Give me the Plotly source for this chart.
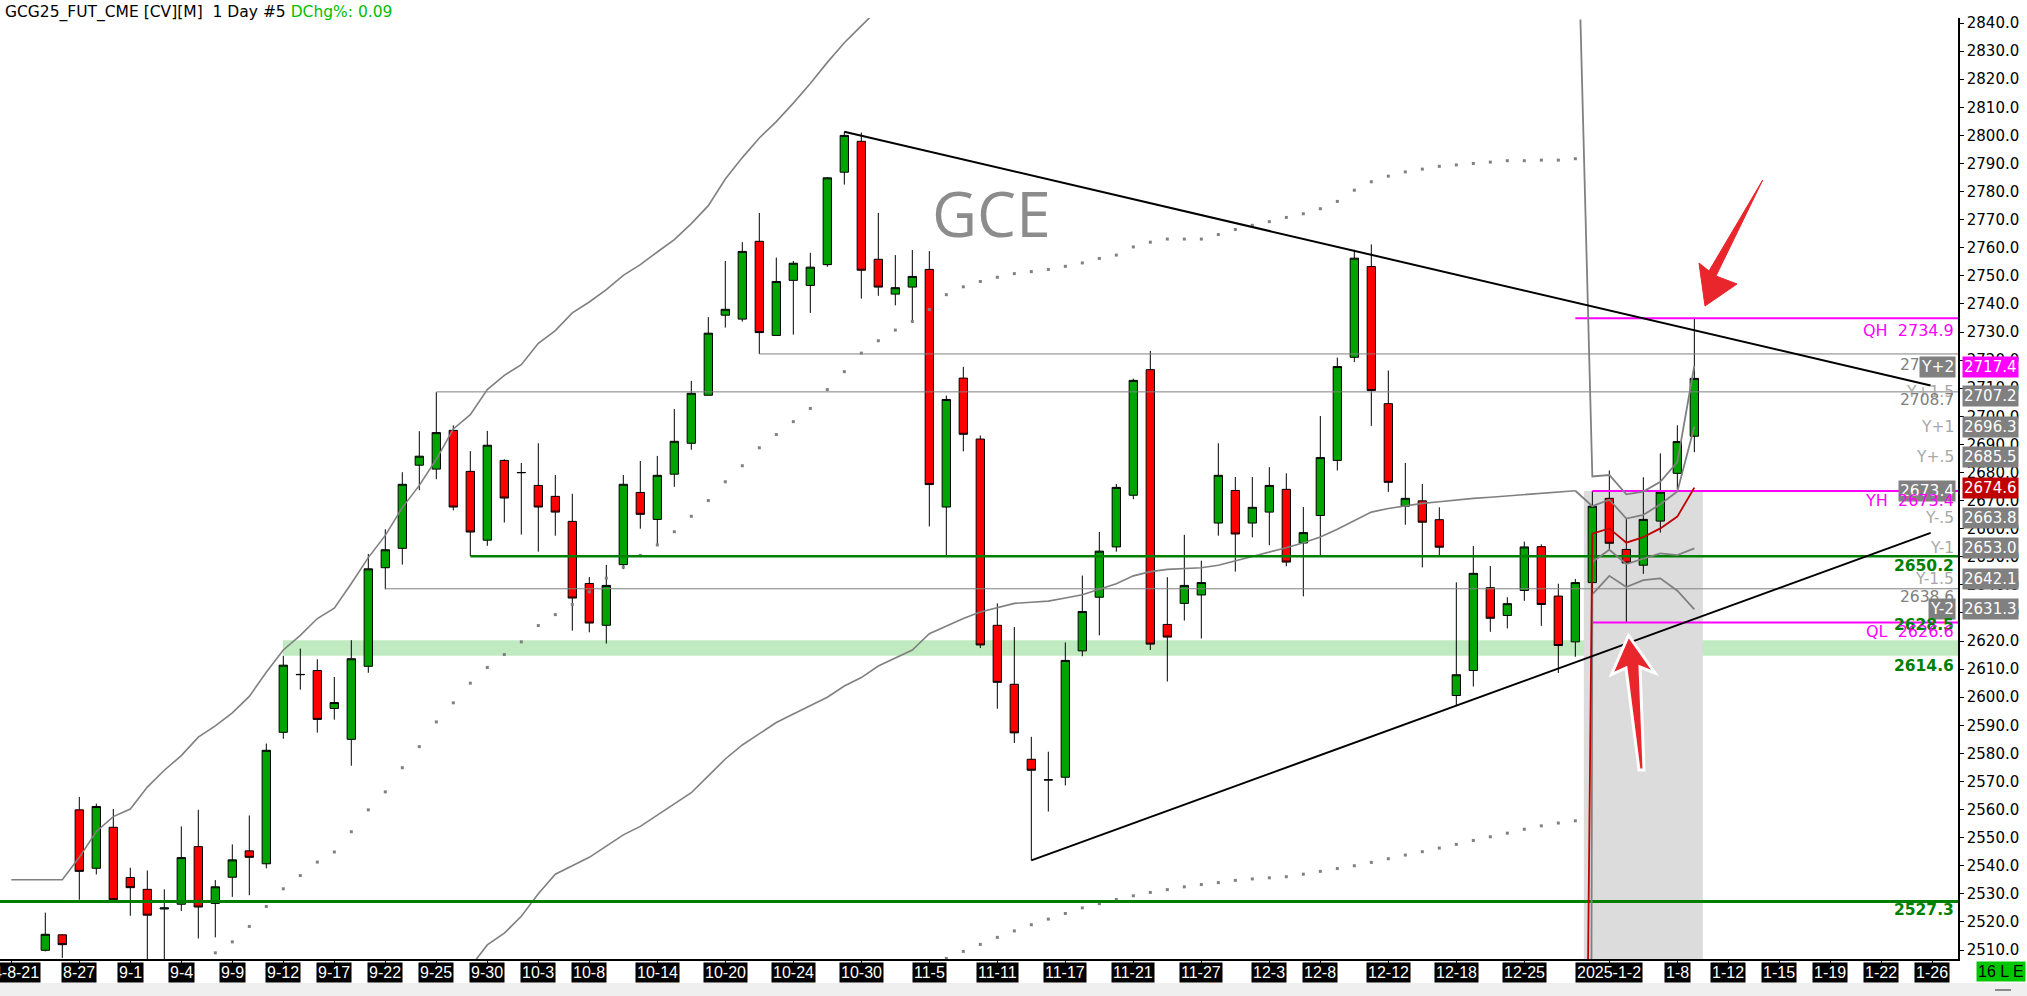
import plotly.graph_objects as go

# ---------------- data ----------------
opens = [2509.9, 2515.4, 2559.9, 2539.1, 2553.7, 2535.8, 2531.6, 2524.6, 2526.3, 2546.8,
         2526.6, 2535.9, 2545.3, 2540.7, 2587.5, 2608.0, 2609.5, 2596.0, 2585.0, 2611.0,
         2646.1, 2653.0, 2682.6, 2681.2, 2695.0, 2680.4, 2655.9, 2684.3, 2679.9, 2675.4,
         2671.5, 2662.6, 2640.5, 2625.6, 2647.2, 2672.9, 2663.3, 2679.4, 2690.4, 2707.5,
         2736.0, 2734.6, 2762.3, 2728.8, 2748.4, 2746.6, 2754.0, 2786.9, 2797.9, 2755.9,
         2743.5, 2746.0, 2752.3, 2667.7, 2713.6, 2691.9, 2625.6, 2604.6, 2577.9, 2570.5,
         2571.5, 2616.5, 2635.6, 2653.5, 2671.9, 2716.6, 2625.9, 2633.4, 2636.4, 2662.0,
         2673.6, 2662.0, 2665.9, 2674.0, 2654.9, 2664.7, 2684.3, 2721.0, 2753.3, 2704.5,
         2668.0, 2669.9, 2663.2, 2600.6, 2609.5, 2639.0, 2629.1, 2638.0, 2653.6, 2636.0,
         2619.7, 2640.8, 2670.8, 2652.6, 2647.0, 2662.7, 2679.7, 2692.9]
highs = [2523.3, 2515.6, 2564.5, 2562.1, 2560.2, 2539.3, 2538.3, 2531.6, 2554.0, 2559.9,
         2534.9, 2547.6, 2557.9, 2583.5, 2614.7, 2617.3, 2613.5, 2607.2, 2620.3, 2651.0,
         2659.8, 2680.1, 2694.7, 2708.6, 2696.8, 2687.6, 2694.8, 2684.7, 2683.4, 2690.4,
         2679.1, 2672.4, 2642.8, 2647.1, 2679.1, 2684.1, 2685.9, 2702.6, 2712.6, 2735.3,
         2755.3, 2762.0, 2772.4, 2756.5, 2755.3, 2758.2, 2785.2, 2801.3, 2801.0, 2772.4,
         2757.4, 2759.2, 2758.8, 2707.4, 2717.6, 2693.2, 2633.4, 2625.0, 2585.9, 2580.6,
         2619.5, 2643.3, 2658.8, 2675.9, 2713.4, 2723.3, 2642.7, 2657.8, 2648.6, 2690.4,
         2678.4, 2678.4, 2681.9, 2679.7, 2667.7, 2700.1, 2720.9, 2759.3, 2761.2, 2716.3,
         2683.4, 2675.9, 2667.6, 2640.9, 2653.8, 2646.7, 2635.6, 2655.4, 2654.4, 2640.4,
         2642.1, 2673.4, 2680.7, 2663.6, 2678.3, 2686.8, 2696.8, 2734.9]
lows = [2509.5, 2507.2, 2527.9, 2536.9, 2527.9, 2522.2, 2503.0, 2502.0, 2523.9, 2514.1,
        2514.5, 2528.9, 2529.5, 2539.1, 2585.2, 2602.7, 2587.4, 2592.0, 2575.6, 2608.7,
        2638.4, 2647.2, 2673.7, 2677.6, 2666.5, 2650.2, 2653.9, 2662.2, 2657.9, 2651.8,
        2657.5, 2623.7, 2623.1, 2619.1, 2645.6, 2660.0, 2654.2, 2674.9, 2688.1, 2707.5,
        2731.6, 2733.7, 2722.2, 2728.8, 2729.1, 2736.8, 2753.2, 2782.5, 2741.9, 2742.9,
        2739.5, 2733.3, 2660.8, 2650.1, 2687.5, 2617.5, 2595.9, 2583.7, 2541.9, 2559.3,
        2568.6, 2614.6, 2622.0, 2651.8, 2670.5, 2616.8, 2605.6, 2627.3, 2620.9, 2657.5,
        2644.7, 2656.9, 2654.1, 2646.6, 2635.9, 2650.3, 2680.7, 2719.3, 2696.6, 2673.1,
        2661.4, 2646.2, 2650.3, 2596.9, 2603.8, 2623.3, 2624.5, 2634.3, 2625.4, 2608.6,
        2614.4, 2636.6, 2652.5, 2626.6, 2643.9, 2658.6, 2674.1, 2687.2]
closes = [2515.6, 2511.9, 2538.0, 2561.1, 2527.9, 2532.2, 2522.4, 2525.0, 2542.9, 2525.3,
          2532.5, 2542.1, 2543.0, 2581.1, 2611.4, 2608.1, 2592.1, 2598.1, 2613.7, 2645.7,
          2652.5, 2675.8, 2685.8, 2694.2, 2667.7, 2658.8, 2689.7, 2670.9, 2680.0, 2667.7,
          2665.9, 2635.3, 2626.4, 2639.8, 2675.8, 2665.1, 2679.0, 2691.1, 2708.2, 2729.6,
          2738.1, 2758.7, 2729.8, 2748.0, 2754.5, 2753.1, 2784.9, 2800.0, 2752.0, 2746.0,
          2745.8, 2749.8, 2675.7, 2706.0, 2693.6, 2618.6, 2605.3, 2587.3, 2574.0, 2570.6,
          2613.1, 2630.5, 2652.0, 2674.7, 2712.8, 2618.9, 2621.4, 2639.8, 2640.8, 2679.0,
          2658.1, 2667.6, 2675.4, 2648.1, 2658.6, 2685.3, 2717.7, 2756.3, 2709.2, 2676.5,
          2670.8, 2662.3, 2653.4, 2608.0, 2644.1, 2628.1, 2633.3, 2653.5, 2633.0, 2618.4,
          2640.8, 2668.0, 2654.8, 2647.8, 2663.3, 2673.0, 2691.0, 2713.5]
bar_idx = list(range(len(opens)))

tick_pos = [-2, 2, 5, 8, 11, 14, 17, 20, 23, 26, 29, 32, 36, 40, 44, 48, 52, 56, 60, 64,
            68, 72, 75, 79, 83, 87, 92, 96, 99, 102, 105, 108, 111]
tick_text = ["24-8-21", "8-27", "9-1", "9-4", "9-9", "9-12", "9-17", "9-22", "9-25", "9-30",
             "10-3", "10-8", "10-14", "10-20", "10-24", "10-30", "11-5", "11-11", "11-17",
             "11-21", "11-27", "12-3", "12-8", "12-12", "12-18", "12-25", "2025-1-2", "1-8",
             "1-12", "1-15", "1-19", "1-22", "1-26"]

y_ticks = [2510 + 10 * i for i in range(34)]

# upper envelope (solid grey)
upper_band_x = list(range(-2, 50))
upper_band_y = [2535.0, 2535.0, 2535.0, 2535.0, 2543.0, 2552.2, 2557.5, 2560.2, 2568.0, 2574.0,
                2579.2, 2585.8, 2589.8, 2594.4, 2600.3, 2608.9, 2616.8, 2622.0, 2628.0, 2631.7,
                2640.5, 2649.7, 2657.6, 2667.5, 2675.4, 2684.7, 2695.5, 2700.6, 2709.5, 2714.6,
                2718.4, 2726.0, 2730.5, 2736.8, 2740.7, 2745.1, 2750.2, 2754.0, 2758.5, 2762.9,
                2768.6, 2775.0, 2784.5, 2792.1, 2799.1, 2804.9, 2811.5, 2818.5, 2826.0, 2833.0,
                2839.0, 2845.0]
# lower envelope (solid grey)
lower_band_x = list(range(25, 91))
lower_band_y = [2504.0, 2511.8, 2516.0, 2522.0, 2530.0, 2537.0, 2540.0, 2543.0, 2547.0, 2551.0,
                2554.0, 2558.0, 2562.0, 2566.0, 2572.0, 2578.0, 2583.0, 2587.0, 2591.0, 2594.0,
                2597.0, 2600.0, 2604.0, 2607.0, 2611.1, 2614.0, 2616.8, 2622.6, 2625.3, 2628.0,
                2630.3, 2631.9, 2633.4, 2633.8, 2634.2, 2635.3, 2636.5, 2638.4, 2640.4, 2643.2,
                2644.7, 2645.5, 2645.8, 2646.1, 2647.0, 2648.5, 2650.0, 2651.5, 2653.2, 2655.0,
                2657.0, 2659.8, 2662.7, 2665.9, 2667.2, 2668.2, 2669.0, 2669.6, 2670.3, 2670.8,
                2671.2, 2671.7, 2672.2, 2672.7, 2673.2, 2673.5]
# dotted upper stop line
up_dots_x = list(range(10, 91))
up_dots_y = [2509.0, 2512.9, 2518.4, 2525.5, 2531.8, 2536.5, 2541.3, 2544.9, 2552.1, 2559.9,
             2566.3, 2574.9, 2582.4, 2591.2, 2598.0, 2605.0, 2610.6, 2615.2, 2619.7, 2625.5,
             2629.4, 2633.0, 2637.5, 2642.4, 2646.3, 2650.5, 2654.2, 2658.9, 2664.4, 2670.0,
             2676.7, 2682.4, 2688.8, 2693.5, 2698.1, 2702.8, 2709.5, 2715.9, 2722.5, 2726.9,
             2730.7, 2733.8, 2738.0, 2743.3, 2746.1, 2748.0, 2749.5, 2750.8, 2751.5, 2752.3,
             2753.4, 2754.6, 2756.2, 2757.4, 2760.3, 2762.0, 2763.1, 2763.1, 2763.1, 2764.7,
             2766.5, 2768.0, 2769.3, 2770.8, 2772.1, 2773.9, 2776.5, 2780.5, 2783.5, 2785.5,
             2787.0, 2788.0, 2789.0, 2789.5, 2790.0, 2790.5, 2791.0, 2791.0, 2791.2, 2791.2,
             2791.7]
# dotted lower stop line
lo_dots_x = list(range(53, 91))
lo_dots_y = [2507.0, 2509.5, 2512.0, 2514.5, 2516.8, 2519.0, 2521.0, 2523.0, 2525.0, 2526.5,
             2528.0, 2529.3, 2530.5, 2531.5, 2532.5, 2533.3, 2534.0, 2534.8, 2535.3, 2535.7,
             2536.1, 2537.0, 2538.0, 2539.0, 2540.0, 2541.2, 2542.5, 2543.8, 2545.0, 2546.3,
             2547.6, 2549.0, 2550.3, 2551.6, 2553.0, 2554.2, 2555.2, 2556.0]

# session (year-anchored) bands inside the shaded area
sess_up2_x = [90.3, 90.47, 90.6, 90.7, 90.86, 91, 92, 93, 94, 95, 96, 97]
sess_up2_y = [2841.3, 2800.8, 2765.2, 2740.0, 2707.8, 2678.6, 2679.1, 2672.2, 2673.2, 2676.7, 2683.7, 2718.0]
sess_up1_x = [90, 91, 92, 93, 94, 95, 96, 97]
sess_up1_y = [2673.5, 2668.0, 2670.3, 2663.6, 2664.9, 2668.7, 2673.2, 2696.3]
sess_mid_x = [90.75, 90.85, 90.95, 91, 92, 93, 94, 95, 96, 97]
sess_mid_y = [2506.8, 2580.0, 2625.0, 2658.2, 2660.1, 2655.0, 2657.0, 2660.1, 2664.3, 2674.6]
sess_lo1_x = [91, 92, 93, 94, 95, 96, 97]
sess_lo1_y = [2648.1, 2652.5, 2647.4, 2649.3, 2651.2, 2650.6, 2653.0]
sess_lo2_x = [90.95, 91, 92, 93, 94, 95, 96, 97]
sess_lo2_y = [2506.8, 2636.6, 2643.2, 2639.2, 2641.7, 2642.3, 2637.9, 2631.3]

# trend lines
trend_hi_x = [47, 110.9]
trend_hi_y = [2801.3, 2711.0]
trend_lo_x = [58, 110.9]
trend_lo_y = [2541.9, 2658.5]

# horizontal levels: value, start bar, colour, width
level_vals = [2527.3, 2650.2, 2708.7, 2722.2, 2638.6, 2734.9, 2673.4, 2626.6]
level_start = [-2.7, 25, 23, 42, 20, 90, 91, 91]
level_color = ["#008000", "#008000", "#808080", "#808080", "#808080", "#ff00ff", "#ff00ff", "#ff00ff"]
level_width = [3, 2.5, 1, 1, 1, 2, 2, 2]

zone_lo, zone_hi, zone_start = 2614.8, 2620.3, 14
shade_x0, shade_x1, shade_top = 90.5, 97.5, 2673.4

y_levels = [2717.4, 2707.2, 2696.3, 2685.5, 2674.6, 2663.8, 2653.0, 2642.1, 2631.3]
y_level_box = ["#ff00ff", "#808080", "#808080", "#808080", "#c00000", "#808080", "#808080", "#808080", "#808080"]

# ---------------- geometry ----------------
W, H = 2027, 996
ML, MR, MT, MB = 0, 69, 18, 37
PW, PH = W - ML - MR, H - MT - MB
XR = [-2.665, 112.51]
YR = [2506.8, 2841.8]

def px(xp):
    return xp / PW

def py(yp):
    return (H - MB - yp) / PH

fig = go.Figure()

shapes = [
    dict(type="rect", xref="x", yref="y", x0=zone_start - 0.03, x1=XR[1], y0=zone_lo, y1=zone_hi,
         fillcolor="#c0ebc0", line=dict(width=0), layer="below"),
    dict(type="rect", xref="x", yref="y", x0=shade_x0, x1=shade_x1, y0=YR[0], y1=shade_top,
         fillcolor="#dcdcdc", line=dict(width=0), layer="below"),
]

fig.add_trace(go.Scatter(x=upper_band_x, y=upper_band_y, mode="lines",
                         line=dict(color="#808080", width=1.6), hoverinfo="skip"))
fig.add_trace(go.Scatter(x=lower_band_x, y=lower_band_y, mode="lines",
                         line=dict(color="#808080", width=1.6), hoverinfo="skip"))
fig.add_trace(go.Scatter(x=up_dots_x, y=up_dots_y, mode="markers",
                         marker=dict(color="#808080", size=3, symbol="square", line=dict(width=0)), hoverinfo="skip"))
fig.add_trace(go.Scatter(x=lo_dots_x, y=lo_dots_y, mode="markers",
                         marker=dict(color="#808080", size=3, symbol="square", line=dict(width=0)), hoverinfo="skip"))

for v, s, c, w in zip(level_vals, level_start, level_color, level_width):
    fig.add_trace(go.Scatter(x=[s, XR[1] + 1], y=[v, v], mode="lines",
                             line=dict(color=c, width=w), hoverinfo="skip"))

for xs, ys, c, w in [(sess_up2_x, sess_up2_y, "#808080", 1.8), (sess_up1_x, sess_up1_y, "#808080", 1.8),
                     (sess_lo1_x, sess_lo1_y, "#808080", 1.8), (sess_lo2_x, sess_lo2_y, "#808080", 1.8),
                     (sess_mid_x, sess_mid_y, "#c00000", 1.8)]:
    fig.add_trace(go.Scatter(x=xs, y=ys, mode="lines", line=dict(color=c, width=w), hoverinfo="skip"))

fig.add_trace(go.Scatter(x=trend_hi_x, y=trend_hi_y, mode="lines", line=dict(color="black", width=2), hoverinfo="skip"))
fig.add_trace(go.Scatter(x=trend_lo_x, y=trend_lo_y, mode="lines", line=dict(color="black", width=2), hoverinfo="skip"))

fig.add_trace(go.Candlestick(
    x=bar_idx, open=opens, high=highs, low=lows, close=closes,
    increasing=dict(fillcolor="#00a400", line=dict(color="black", width=1)),
    decreasing=dict(fillcolor="#ff0000", line=dict(color="black", width=1)),
    whiskerwidth=0, hoverinfo="skip"))

ann = []
ann.append(dict(xref="paper", yref="paper", x=0, y=py(12), xanchor="left", yanchor="middle", xshift=3,
                text="GCG25_FUT_CME [CV][M]  1 Day #5 <span style='color:#00c000'>DChg%: 0.09</span>",
                showarrow=False, font=dict(family="DejaVu Sans", size=15.5, color="black")))
ann.append(dict(xref="paper", yref="paper", x=px(991), y=py(213), xanchor="center", yanchor="middle",
                text="GCE", showarrow=False,
                font=dict(family="Open Sans", size=62, color="rgba(120,120,120,0.85)")))

for p, t in zip(tick_pos, tick_text):
    ann.append(dict(xref="x", yref="paper", x=p, y=py(972), xanchor="center", yanchor="middle",
                    text=t, showarrow=False, bgcolor="black", borderpad=1,
                    font=dict(family="Liberation Sans", size=16, color="white")))
ann.append(dict(xref="paper", yref="paper", x=px(2026), y=py(971), xanchor="right", yanchor="middle",
                text="16 L E", showarrow=False, bgcolor="#00c800", borderpad=1,
                font=dict(family="Liberation Sans", size=16, color="black")))

RX = px(1956)

def lab(text, price, color, shift=0, bg=None, size=15.5, bold=False, fam="DejaVu Sans"):
    t = "<b>%s</b>" % text if bold else text
    d = dict(xref="paper", yref="y", x=RX, y=price, xanchor="right", yanchor="middle", yshift=shift,
             text=t, showarrow=False, font=dict(family=fam, size=size, color=color))
    if bg:
        d["bgcolor"] = bg
        d["borderpad"] = 1
    ann.append(d)

lab("QH\u00a0\u00a02734.9", 2734.9, "#ff00ff", -12, size=16)
lab("2722.2", 2722.2, "#808080", -11)
lab("Y+2", 2717.4, "white", 0, bg="#808080")
lab("Y+1.5", 2707.2, "#a8a8a8", 4)
lab("2708.7", 2708.7, "#808080", -8)
lab("Y+1", 2696.3, "#a8a8a8", 0)
lab("Y+.5", 2685.5, "#a8a8a8", 0)
lab("2673.4", 2673.4, "white", 0, bg="#808080")
lab("YH\u00a0\u00a02673.4", 2673.4, "#ff00ff", -9, size=16)
lab("Y-.5", 2663.8, "#a8a8a8", 0)
lab("Y-1", 2653.0, "#a8a8a8", 0)
lab("2650.2", 2650.2, "#008000", -10, bold=True, size=15.5)
lab("Y-1.5", 2642.1, "#a8a8a8", 0)
lab("2638.6", 2638.6, "#808080", -8)
lab("Y-2", 2631.3, "white", 0, bg="#808080")
lab("2628.5", 2626.6, "#008000", -3, bold=True, size=15.5)
lab("QL\u00a0\u00a02626.6", 2626.6, "#ff00ff", -9, size=16)
lab("2614.6", 2614.6, "#008000", -10, bold=True, size=15.5)
lab("2527.3", 2527.3, "#008000", -9, bold=True, size=15.5)

for v, c in zip(y_levels, y_level_box):
    ann.append(dict(xref="paper", yref="y", x=px(1962), y=v, xanchor="left", yanchor="middle",
                    text="%.1f" % v, showarrow=False, bgcolor=c, borderpad=1,
                    font=dict(family="DejaVu Sans", size=15, color="white")))

shapes.append(dict(type="rect", xref="paper", yref="paper", x0=-0.01, x1=px(W + 5), y0=py(983), y1=py(H + 5),
                   fillcolor="#efefef", line=dict(width=0), layer="above"))
shapes.append(dict(type="line", xref="paper", yref="paper", x0=px(1995), x1=px(2011), y0=py(990), y1=py(990),
                   line=dict(color="#8a8a8a", width=2)))

def path(pts):
    return "M " + " L ".join("%.5f,%.5f" % (px(a), py(b)) for a, b in pts) + " Z"

shapes.append(dict(type="path", xref="paper", yref="paper",
                   path=path([(1762.7, 180), (1716, 276), (1737, 284), (1705, 306), (1699, 263), (1709, 271)]),
                   fillcolor="#e8262b", line=dict(color="#e8262b", width=1), layer="above"))
shapes.append(dict(type="path", xref="paper", yref="paper",
                   path=path([(1628.5, 635.5), (1655, 673), (1640, 667), (1644, 770), (1639, 770), (1626, 668), (1611.5, 674.5)]),
                   fillcolor="#e8262b", line=dict(color="white", width=3), layer="above"))

fig.update_layout(
    template="none",
    width=W, height=H, autosize=False,
    margin=dict(l=ML, r=MR, t=MT, b=MB, pad=0, autoexpand=False),
    paper_bgcolor="white", plot_bgcolor="white",
    showlegend=False, shapes=shapes, annotations=ann,
    xaxis=dict(range=XR, rangeslider=dict(visible=False), showgrid=False, zeroline=False, automargin=False,
               showline=True, linecolor="black", linewidth=1.5, ticks="outside", ticklen=4,
               tickcolor="black", tickvals=tick_pos, showticklabels=False, fixedrange=True),
    yaxis=dict(range=YR, side="right", showgrid=False, zeroline=False, showline=True, automargin=False,
               linecolor="black", linewidth=1.5, ticks="outside", ticklen=4, tickcolor="black",
               tickvals=y_ticks, ticktext=["%.1f" % v for v in y_ticks],
               tickfont=dict(family="DejaVu Sans", size=15, color="black")),
)

fig.write_html("out.html", config={"displayModeBar": False},
               post_script="document.body.style.margin='0';document.body.style.padding='0';"
                           "document.body.style.overflow='hidden';"
                           "document.documentElement.style.overflow='hidden';")
